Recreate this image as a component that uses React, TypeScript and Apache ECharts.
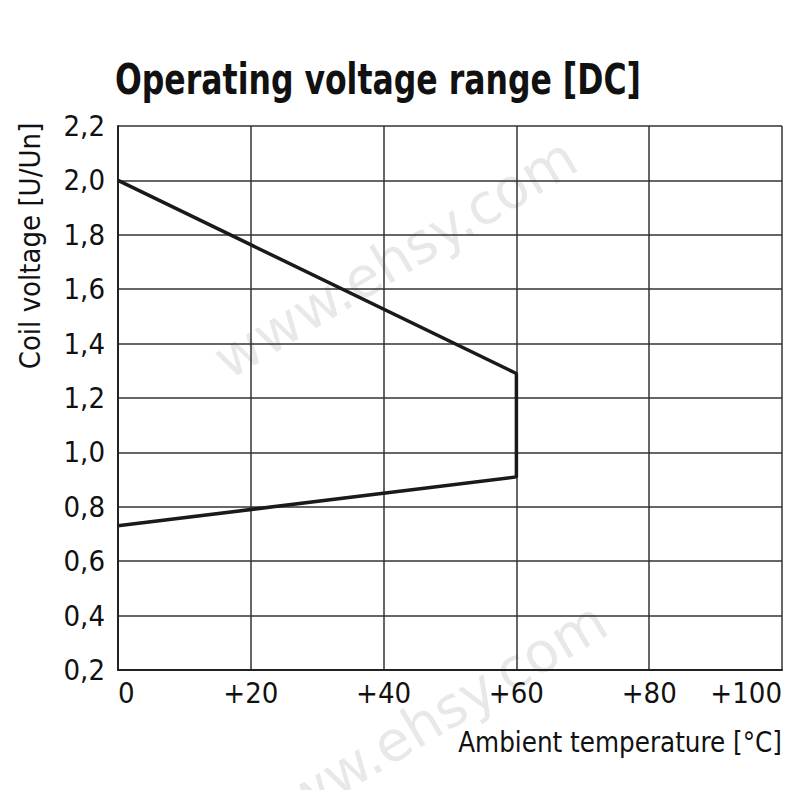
import React, { useEffect, useRef } from "react";
import * as echarts from "echarts";

const temperature = [0, 60, 60, 0];
const voltage = [2.0, 1.29, 0.91, 0.73];
const xTicks = { min: 0, max: 100, interval: 20 };
const yTicks = { min: 0.2, max: 2.2, interval: 0.2 };
const titleText = "Operating voltage range [DC]";
const xName = "Ambient temperature [°C]";
const yName = "Coil voltage [U/Un]";
const watermark = "www.ehsy.com";

const FONT = "'DejaVu Sans Condensed', 'DejaVu Sans', sans-serif";

export default function App() {
  const ref = useRef<HTMLDivElement>(null);
  useEffect(() => {
    if (!ref.current) return;
    const chart = echarts.init(ref.current, undefined, { renderer: "svg" });
    const data = temperature.map((t, i) => [t, voltage[i]]);
    const wm = (x: number, y: number) => ({
      type: "text", x, y, rotation: (Math.PI / 180) * 31,
      style: {
        text: watermark, fontFamily: "'DejaVu Sans', sans-serif", fontSize: 56,
        fill: "rgba(0,0,0,0.09)", align: "center", verticalAlign: "middle",
      },
      silent: true, z: 0,
    });
    chart.setOption({
      animation: false,
      backgroundColor: "#ffffff",
      grid: { left: 118, right: 8, top: 126, bottom: 120, outerBoundsMode: "none", containLabel: false },
      xAxis: {
        type: "value",
        min: xTicks.min,
        max: xTicks.max,
        interval: xTicks.interval,
        axisLine: { show: true, lineStyle: { color: "#222", width: 2 } },
        axisTick: { show: false },
        splitLine: { show: true, lineStyle: { color: "#333", width: 1.5 } },
        axisLabel: {
          fontFamily: FONT, fontSize: 29, color: "#111", margin: 8,
          alignMinLabel: "left", alignMaxLabel: "right",
          formatter: (v: number) => (v === 0 ? "0" : "+" + v),
        },
      },
      yAxis: {
        type: "value",
        min: yTicks.min,
        max: yTicks.max,
        interval: yTicks.interval,
        axisLine: { show: true, lineStyle: { color: "#222", width: 2 } },
        axisTick: { show: false },
        splitLine: { show: true, lineStyle: { color: "#333", width: 1.5 } },
        axisLabel: {
          fontFamily: FONT, fontSize: 29, color: "#111", margin: 13,
          formatter: (v: number) => v.toFixed(1).replace(".", ","),
        },
      },
      graphic: [
        wm(395, 258),
        wm(425, 722),
        {
          type: "text", x: 115, y: 79, scaleX: 0.815,
          style: {
            text: titleText, fontFamily: FONT, fontWeight: "bold", fontSize: 43,
            fill: "#111", align: "left", verticalAlign: "middle",
          },
        },
        {
          type: "text", x: 782, y: 742, scaleX: 0.947,
          style: {
            text: xName, fontFamily: FONT, fontSize: 29,
            fill: "#111", align: "right", verticalAlign: "middle",
          },
        },
        {
          type: "text", x: 30, y: 246, rotation: Math.PI / 2,
          style: {
            text: yName, fontFamily: FONT, fontSize: 29,
            fill: "#111", align: "center", verticalAlign: "middle",
          },
        },
      ],
      series: [
        {
          type: "line",
          data,
          symbol: "none",
          lineStyle: { color: "#1a1a1a", width: 3.5 },
          z: 5,
        },
      ],
    });
    return () => chart.dispose();
  }, []);
  return (
    <div
      ref={ref}
      style={{ position: "absolute", left: 0, top: 0, width: 790, height: 790 }}
    />
  );
}
